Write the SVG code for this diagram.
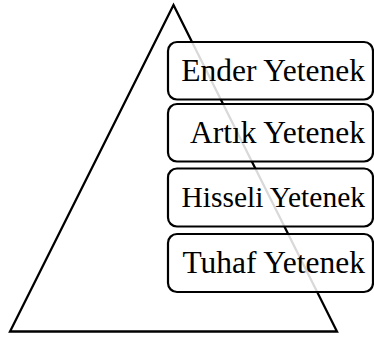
<svg xmlns="http://www.w3.org/2000/svg" width="374" height="341" viewBox="0 0 374 341">
<style>
.box{fill:#ffffff;fill-opacity:0.85;stroke:#000;stroke-width:2.2}
.lbl{font-family:"Liberation Serif","Times New Roman",serif;font-size:31.5px;fill:#000;text-anchor:end}
</style>
<rect width="374" height="341" fill="#ffffff"/>
<g id="pyramid">
<polygon points="173.5,5 337,331.5 10,331.5" fill="#ffffff" stroke="#000" stroke-width="2.3" stroke-linejoin="miter"/>
</g>
<g id="connectors"></g>
<g id="ender">
<rect class="box" x="168" y="42" width="205" height="57.5" rx="9"/>
<text class="lbl" x="365" y="80.5">Ender Yetenek</text>
</g>
<g id="artik">
<rect class="box" x="168" y="104" width="205" height="57.5" rx="9"/>
<text class="lbl" x="365" y="142.5">Artık Yetenek</text>
</g>
<g id="hisseli">
<rect class="box" x="168" y="168.5" width="205" height="58" rx="9"/>
<text class="lbl" x="365" y="206.5" style="font-size:29.5px">Hisseli Yetenek</text>
</g>
<g id="tuhaf">
<rect class="box" x="168" y="234" width="205" height="58" rx="9"/>
<text class="lbl" x="365" y="273">Tuhaf Yetenek</text>
</g>
</svg>
